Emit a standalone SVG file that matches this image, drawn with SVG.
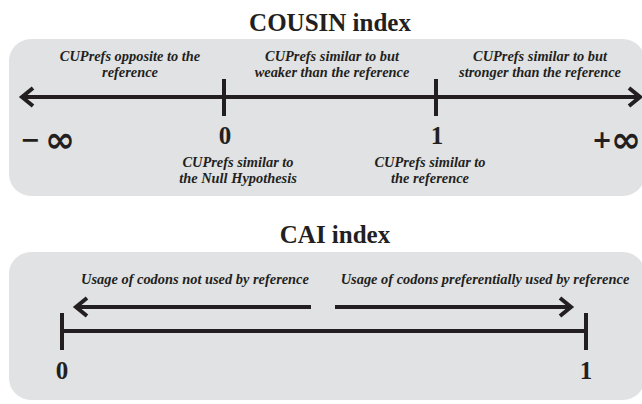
<svg xmlns="http://www.w3.org/2000/svg" width="642" height="404" viewBox="0 0 642 404">
<style>
.bg{fill:#ffffff}
.panel{fill:#e1e2e4}
.title{font-family:"Liberation Serif",serif;font-weight:bold;font-size:25px;fill:#231f20;text-anchor:middle}
.lbl{font-family:"Liberation Serif",serif;font-weight:bold;font-style:italic;font-size:14.4px;fill:#231f20;text-anchor:middle}
.num{font-family:"Liberation Serif",serif;font-weight:bold;font-size:25px;fill:#231f20;text-anchor:middle}
.sgn{font-family:"DejaVu Sans","Liberation Sans",sans-serif;font-weight:bold;font-size:24px;fill:#231f20;text-anchor:middle}
.inf{font-family:"DejaVu Sans","Liberation Sans",sans-serif;font-weight:bold;font-size:36px;fill:#231f20;text-anchor:middle}
.ln{stroke:#231f20;stroke-width:4;fill:none}
.head{stroke:#231f20;stroke-width:4;fill:none;stroke-linejoin:miter}
</style>
<rect class="bg" x="0" y="0" width="642" height="404"/>

<g id="cousin-panel">
<text class="title" x="330" y="31">COUSIN index</text>
<rect class="panel" x="9" y="39" width="636" height="157" rx="22"/>
</g>

<g id="cousin-labels">
<text class="lbl" x="130" y="61">CUPrefs opposite to the</text>
<text class="lbl" x="130" y="77">reference</text>
<text class="lbl" x="332" y="61">CUPrefs similar to but</text>
<text class="lbl" x="332" y="77">weaker than the reference</text>
<text class="lbl" x="540" y="61">CUPrefs similar to but</text>
<text class="lbl" x="540" y="77">stronger than the reference</text>
<text class="lbl" x="238" y="167">CUPrefs similar to</text>
<text class="lbl" x="238" y="183">the Null Hypothesis</text>
<text class="lbl" x="430" y="167">CUPrefs similar to</text>
<text class="lbl" x="430" y="183">the reference</text>
</g>

<g id="cousin-values">
<text class="sgn" x="30" y="148">−</text>
<text class="inf" x="60" y="152">∞</text>
<text class="num" x="225" y="144">0</text>
<text class="num" x="437" y="144">1</text>
<text class="sgn" x="602" y="148">+</text>
<text class="inf" x="626" y="152">∞</text>
</g>

<g id="cai-panel">
<text class="title" x="335" y="243">CAI index</text>
<rect class="panel" x="9" y="252" width="636" height="148" rx="22"/>
</g>

<g id="cai-labels">
<text class="lbl" x="195" y="284">Usage of codons not used by reference</text>
<text class="lbl" x="485" y="284">Usage of codons preferentially used by reference</text>
<text class="num" x="62" y="379">0</text>
<text class="num" x="586" y="379">1</text>
</g>

<g id="connectors">
<line class="ln" x1="22" y1="97" x2="640" y2="97"/>
<polyline class="head" points="33,88 22,97 33,106"/>
<polyline class="head" points="629,88 640,97 629,106"/>
<line class="ln" x1="224" y1="79" x2="224" y2="116"/>
<line class="ln" x1="436" y1="79" x2="436" y2="116"/>

<line class="ln" x1="311" y1="307" x2="76" y2="307"/>
<polyline class="head" points="87,298 76,307 87,316"/>
<line class="ln" x1="335" y1="307" x2="571" y2="307"/>
<polyline class="head" points="560,298 571,307 560,316"/>
<line class="ln" x1="62" y1="331" x2="586" y2="331"/>
<line class="ln" x1="62" y1="313" x2="62" y2="350"/>
<line class="ln" x1="586" y1="313" x2="586" y2="350"/>
</g>
</svg>
